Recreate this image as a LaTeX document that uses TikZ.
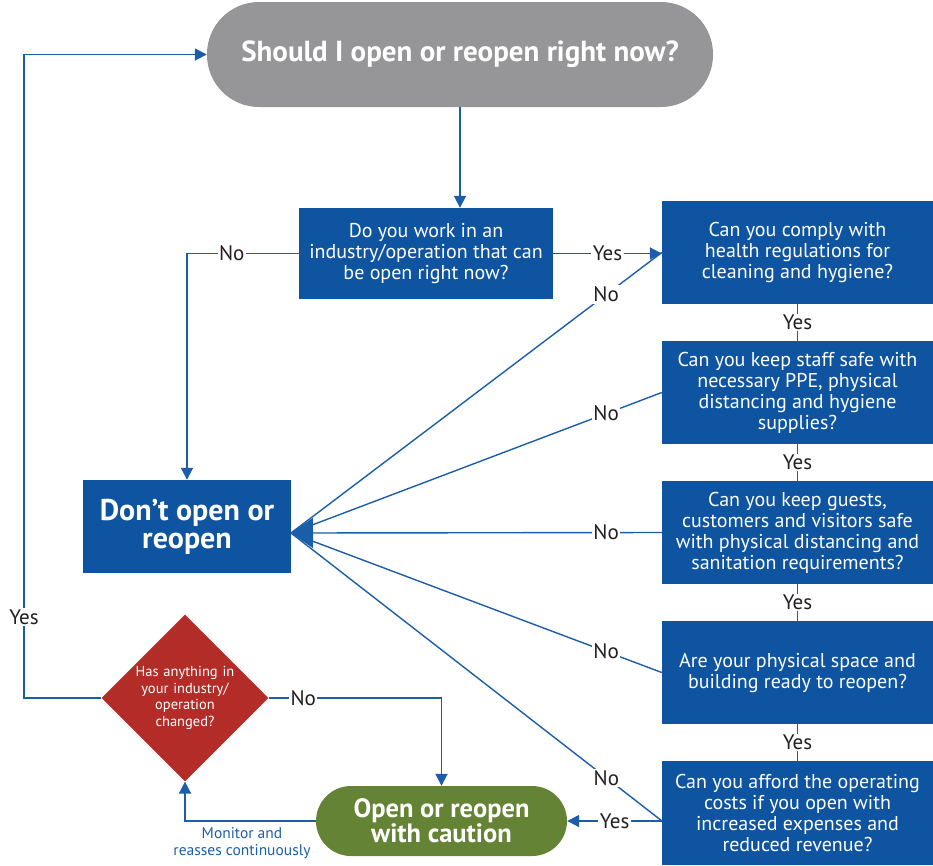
\documentclass[tikz,border=0pt]{standalone}
\usepackage{fontspec}
\setmainfont{PT Sans}
\usetikzlibrary{shapes.geometric,arrows.meta}

\definecolor{boxblue}{RGB}{14,84,160}
\definecolor{lineblue}{RGB}{26,94,170}
\definecolor{startgray}{RGB}{150,150,152}
\definecolor{diared}{RGB}{180,44,40}
\definecolor{okgreen}{RGB}{100,131,52}
\definecolor{labelgray}{RGB}{35,31,32}

\begin{document}
\begin{tikzpicture}[x=1pt,y=-1pt,
  question/.style={rectangle,fill=boxblue,text=white,align=center,inner sep=0pt,
    font=\fontsize{20}{21}\selectfont},
  check/.style={question,minimum width=271pt,minimum height=103pt},
  pill/.style={rectangle,text=white,align=center,inner sep=0pt,font=\bfseries},
  lbl/.style={fill=white,inner sep=1.5pt,text=labelgray,font=\fontsize{21}{21}\selectfont},
  link/.style={draw=lineblue,line width=1.8pt,-{Triangle[length=12pt,width=12pt]}},
  chain/.style={draw=lineblue,line width=1.5pt},
  nolink/.style={draw=lineblue,line width=1.4pt}]
\useasboundingbox (0,0) rectangle (933,865);
            % Nodes
\node[pill,fill=startgray,minimum width=506pt,minimum height=105pt,rounded corners=52pt,
  font=\bfseries\fontsize{29}{30}\selectfont] (start) at (460,54.5) {Should I open or reopen right now?};
\node[question,minimum width=254pt,minimum height=91pt] (industry) at (426,253.5)
  {Do you work in an\\industry/operation that can\\be open right now?};
\node[check] (clean) at (797.5,252.5) {Can you comply with\\health regulations for\\cleaning and hygiene?};
\node[check] (staff) at (797.5,392.5) {Can you keep staff safe with\\necessary PPE, physical\\distancing and hygiene\\supplies?};
\node[check] (guests) at (797.5,532.5) {Can you keep guests,\\customers and visitors safe\\with physical distancing and\\sanitation requirements?};
\node[check] (space) at (797.5,672.5) {Are your physical space and\\building ready to reopen?};
\node[check,minimum height=104pt] (costs) at (797.5,813) {Can you afford the operating\\costs if you open with\\increased expenses and\\reduced revenue?};
\node[pill,fill=boxblue,minimum width=208pt,minimum height=93pt,rounded corners=0pt,
  font=\bfseries\fontsize{30}{28}\selectfont] (dont) at (187,526.5) {Don’t open or\\reopen};
\node[diamond,fill=diared,text=white,align=center,inner sep=0pt,text width=104pt,
  minimum width=165pt,minimum height=163pt,font=\fontsize{14.5}{16.5}\selectfont] (changed) at (185,698)
  {Has anything in\\your industry/\\operation\\changed?};
\node[pill,fill=okgreen,minimum width=251pt,minimum height=70pt,rounded corners=35pt,
  font=\bfseries\fontsize{26.5}{25}\selectfont] (caution) at (441.5,821) {Open or reopen\\with caution};
\node[text=lineblue,align=center,inner sep=0pt,font=\fontsize{15.5}{17}\selectfont] (monitor) at (242,843.5)
  {Monitor and\\reasses continuously};
\coordinate (tip) at (291,533);
\coordinate (loop) at (24,698);
\coordinate (costsin) at (662,821);
%Main path
\draw[link] (start.south) -- (start.south |- industry.north);
\draw[link] (industry.west) -| node[lbl,pos=0.3]{No} (dont.north);
\draw[link] (industry.east) -- node[lbl]{Yes} (industry.east -| clean.west);
\draw[chain] (clean.south) -- node[lbl]{Yes} (staff.north);
\draw[chain] (staff.south) -- node[lbl]{Yes} (guests.north);
\draw[chain] (guests.south) -- node[lbl]{Yes} (space.north);
\draw[chain] (space.south) -- node[lbl]{Yes} (costs.north);
%No answers
\draw[nolink] (clean.west) -- node[lbl,pos=0.15]{No} (tip);
\draw[nolink] (staff.west) -- node[lbl,pos=0.15]{No} (tip);
\draw[nolink] (space.west) -- node[lbl,pos=0.15]{No} (tip);
\draw[nolink] (costsin) -- node[lbl,pos=0.15]{No} (tip);
\draw[nolink,-{Triangle[length=22pt,width=30pt]}] (guests.west) -- node[lbl,pos=0.15]{No} (tip);
%Loop back
\draw[link] (costsin) -- node[lbl]{Yes} (caution.east);
\draw[link] (caution.west) -| (changed.south);
\draw[link] (changed.east) -| node[lbl,pos=0.1]{No} (caution.north);
\draw[link] (changed.west) -- (loop) |- node[lbl,pos=0.063]{Yes} (start.west);
\end{tikzpicture}
\end{document}
